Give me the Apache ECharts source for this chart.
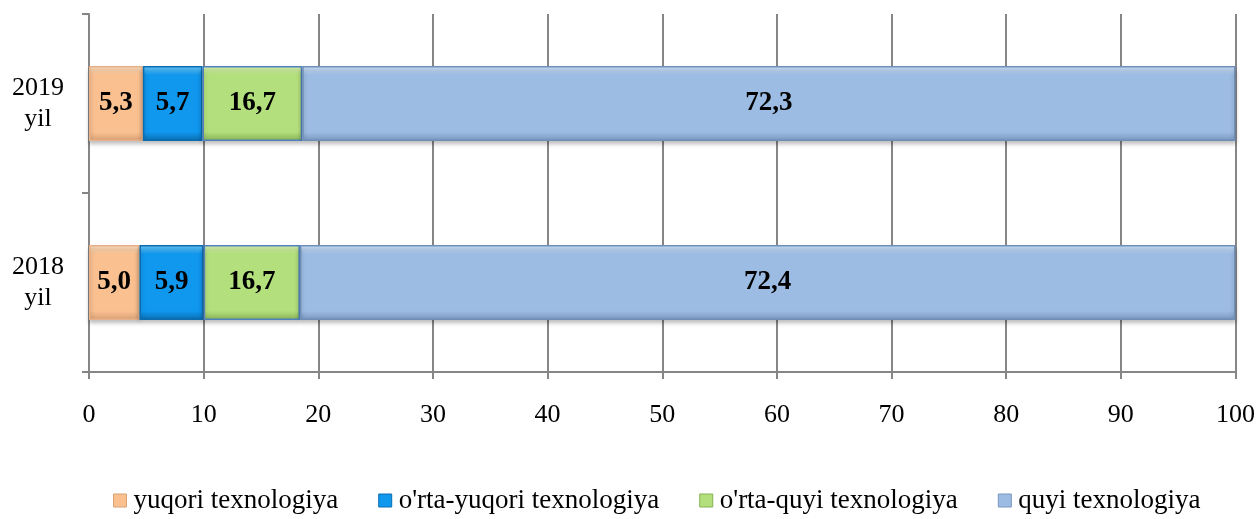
<!DOCTYPE html>
<html>
<head>
<meta charset="utf-8">
<script src="https://cdn.jsdelivr.net/npm/echarts@6/dist/echarts.min.js"></script>
<style>html,body{margin:0;padding:0;background:#fff}#c{width:1258px;height:519px}</style>
</head>
<body>
<div id="c"></div>
<script>
// Categories (bottom to top) and legend names
const categories = ['2018\nyil', '2019\nyil'];
const seriesNames = ['yuqori texnologiya', "o'rta-yuqori texnologiya", "o'rta-quyi texnologiya", 'quyi texnologiya'];
// Bar lengths as drawn in the picture
const yuqori = [4.4, 4.7];
const ortaYuqori = [5.6, 5.2];
const ortaQuyi = [8.4, 8.7];
const quyi = [81.6, 81.4];
// Label texts as printed on the bars
const yuqoriLabels = ['5,0', '5,3'];
const ortaYuqoriLabels = ['5,9', '5,7'];
const ortaQuyiLabels = ['16,7', '16,7'];
const quyiLabels = ['72,4', '72,3'];
// x-axis ticks: min, max, step
const xTicks = [0, 100, 10];

const colors = ['#FAC090', '#1097EE', '#B3E07C', '#9DBCE3'];
const lights = ['#FFE2C4', '#6FD0FF', '#DDF7B8', '#D2E8FF'];
const darks  = ['#D8A074', '#0A6DB0', '#86B055', '#7896BE'];
const borders = ['#E8B088', '#0B6CB0', '#4F81BD', '#6F8FB8'];
const FONT = "'Liberation Serif', 'Times New Roman', serif";
const values = [yuqori, ortaYuqori, ortaQuyi, quyi];
const labels = [yuqoriLabels, ortaYuqoriLabels, ortaQuyiLabels, quyiLabels];

function grad(i) {
  return new echarts.graphic.LinearGradient(0, 0, 0, 1, [
    { offset: 0, color: lights[i] },
    { offset: 0.12, color: colors[i] },
    { offset: 0.88, color: colors[i] },
    { offset: 1, color: darks[i] }
  ]);
}

const chart = echarts.init(document.getElementById('c'));
chart.setOption({
  animation: false,
  grid: { left: 89, right: 22, top: 14, bottom: 147 },
  legend: {
    bottom: 0, left: 108,
    icon: 'rect', itemWidth: 13, itemHeight: 13, itemGap: 40,
    textStyle: { fontFamily: FONT, fontSize: 27, color: '#000', padding: [0, 0, 0, 2] },
    data: seriesNames.map((n, i) => ({ name: n, itemStyle: { color: colors[i], borderColor: darks[i], borderWidth: 1 } }))
  },
  xAxis: {
    type: 'value', min: xTicks[0], max: xTicks[1], interval: xTicks[2],
    axisLine: { show: true, lineStyle: { color: '#868686', width: 2 } },
    axisTick: { show: true, length: 7, lineStyle: { color: '#868686', width: 2 } },
    splitLine: { show: true, lineStyle: { color: '#868686', width: 2 } },
    axisLabel: { fontFamily: FONT, fontSize: 26, color: '#000', margin: 30 }
  },
  yAxis: {
    type: 'category', data: categories,
    axisLine: { show: true, lineStyle: { color: '#868686', width: 2 } },
    axisTick: { show: true, length: 7, lineStyle: { color: '#868686', width: 2 } },
    axisLabel: { fontFamily: FONT, fontSize: 26, color: '#000', align: 'center', margin: 51, lineHeight: 31 }
  },
  series: seriesNames.map((n, i) => ({
    name: n, type: 'bar', stack: 'total', barWidth: 75,
    data: values[i],
    itemStyle: { color: grad(i), borderColor: borders[i], borderWidth: 1.5,
      shadowColor: 'rgba(0,0,0,0.25)', shadowBlur: 4, shadowOffsetY: 3 },
    label: { show: true, position: 'inside', fontFamily: FONT, fontSize: 27, fontWeight: 'bold', color: '#000',
      formatter: p => labels[i][p.dataIndex] }
  }))
});
</script>
</body>
</html>
